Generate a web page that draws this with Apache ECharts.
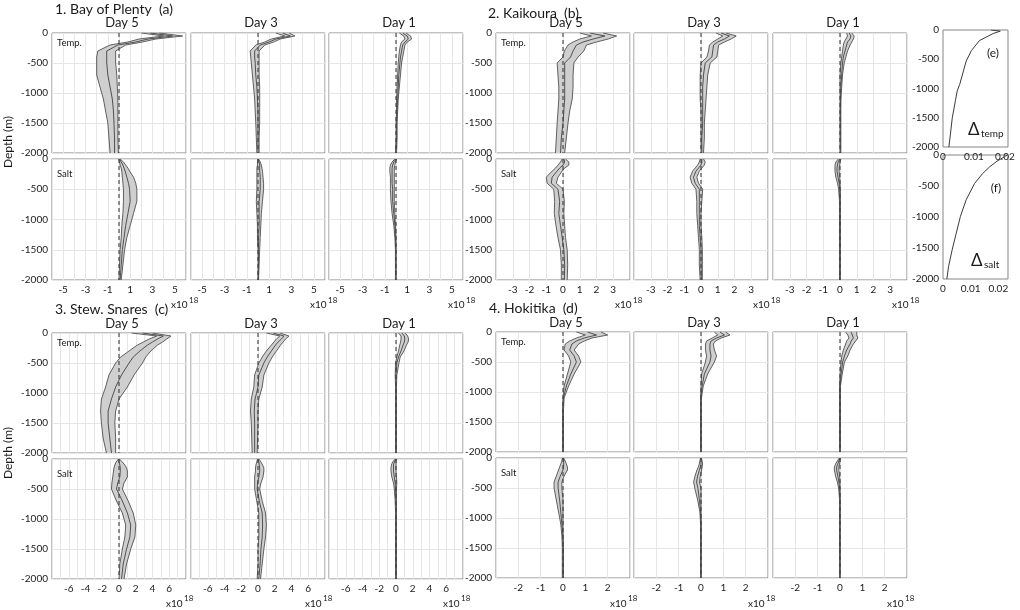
<!DOCTYPE html>
<html><head><meta charset="utf-8">
<script src="https://cdn.jsdelivr.net/npm/echarts/dist/echarts.min.js"></script>
<style>html,body{margin:0;padding:0;background:#fff}#c{width:1020px;height:610px}</style>
</head><body><div id="c"></div>
<script>
// ---------- DATA ----------
const depth = [0, -50, -100, -150, -200, -300, -400, -500, -700, -900, -1100, -1300, -1500, -1750, -2000];
const yTicks = [0, -500, -1000, -1500, -2000];
const bayTicks = [-5, -3, -1, 1, 3, 5];
const kaiTicks = [-3, -2, -1, 0, 1, 2, 3];
const stwTicks = [-6, -4, -2, 0, 2, 4, 6];
const hokTicks = [-2, -1, 0, 1, 2];
const groupTitles = ['1. Bay of Plenty  (a)', '2. Kaikoura  (b)', '3. Stew. Snares  (c)', '4. Hokitika  (d)'];
const dayNames = ['Day 5', 'Day 3', 'Day 1'];

// Bay of Plenty
const bayT5lo  = [2.0, 4.0, 1.8, 0.8, -0.8, -1.9, -2.0, -2.0, -2.0, -1.7, -1.4, -1.2, -1.0, -0.9, -0.8];
const bayT5mid = [2.8, 4.8, 2.6, 1.5, -0.1, -1.1, -1.1, -1.1, -1.0, -0.8, -0.6, -0.5, -0.45, -0.4, -0.4];
const bayT5hi  = [3.6, 5.7, 3.3, 2.1, 0.6, -0.3, -0.3, -0.3, -0.2, -0.15, -0.1, -0.1, -0.1, -0.1, -0.05];
const bayT3lo  = [1.6, 2.4, 1.2, 0.6, -0.2, -0.7, -0.65, -0.6, -0.5, -0.4, -0.3, -0.25, -0.2, -0.15, -0.1];
const bayT3mid = [2.2, 2.9, 1.6, 1.0, 0.2, -0.3, -0.3, -0.25, -0.2, -0.1, -0.05, 0.0, 0.0, 0.0, 0.0];
const bayT3hi  = [2.8, 3.3, 2.0, 1.4, 0.6, 0.1, 0.1, 0.1, 0.1, 0.15, 0.15, 0.15, 0.15, 0.1, 0.1];
const bayT1lo  = [0.3, 0.7, 0.8, 0.5, 0.4, 0.3, 0.25, 0.2, 0.15, 0.1, 0.05, 0.05, 0.0, 0.0, -0.05];
const bayT1mid = [0.6, 1.0, 1.1, 0.8, 0.6, 0.5, 0.4, 0.35, 0.25, 0.2, 0.15, 0.1, 0.05, 0.05, 0.0];
const bayT1hi  = [0.9, 1.3, 1.4, 1.0, 0.8, 0.7, 0.6, 0.5, 0.4, 0.3, 0.2, 0.15, 0.1, 0.1, 0.05];
const bayS5lo  = [0.0, 0.05, 0.1, 0.2, 0.25, 0.3, 0.35, 0.4, 0.4, 0.35, 0.25, 0.2, 0.1, 0.05, 0.0];
const bayS5mid = [0.05, 0.2, 0.35, 0.45, 0.55, 0.7, 0.85, 0.95, 1.0, 0.8, 0.6, 0.45, 0.3, 0.2, 0.1];
const bayS5hi  = [0.1, 0.4, 0.6, 0.8, 0.95, 1.3, 1.5, 1.6, 1.6, 1.3, 1.0, 0.7, 0.5, 0.35, 0.2];
const bayS3lo  = [0.0, -0.05, -0.05, -0.1, -0.1, -0.1, -0.1, -0.1, -0.15, -0.1, -0.05, -0.05, 0.0, 0.0, 0.0];
const bayS3mid = [0.0, 0.1, 0.15, 0.15, 0.15, 0.2, 0.2, 0.2, 0.1, 0.1, 0.1, 0.05, 0.05, 0.05, 0.0];
const bayS3hi  = [0.05, 0.2, 0.3, 0.35, 0.4, 0.45, 0.5, 0.5, 0.4, 0.3, 0.25, 0.2, 0.15, 0.1, 0.05];
const bayS1lo  = [-0.1, -0.35, -0.5, -0.55, -0.55, -0.5, -0.5, -0.5, -0.45, -0.35, -0.2, -0.1, -0.05, -0.05, -0.05];
const bayS1mid = [0.0, -0.2, -0.3, -0.35, -0.35, -0.35, -0.35, -0.3, -0.3, -0.2, -0.1, -0.05, 0.0, 0.0, 0.0];
const bayS1hi  = [0.05, -0.05, -0.1, -0.15, -0.15, -0.15, -0.15, -0.15, -0.15, -0.1, -0.05, 0.0, 0.0, 0.0, 0.0];

// Kaikoura
const kaiT5lo  = [1.0, 1.7, 1.0, 0.6, 0.3, 0.08, 0.0, -0.35, -0.3, -0.25, -0.25, -0.3, -0.35, -0.4, -0.45];
const kaiT5mid = [1.6, 2.5, 1.8, 1.2, 0.8, 0.6, 0.45, 0.1, 0.1, 0.1, 0.1, 0.05, 0.0, -0.1, -0.15];
const kaiT5hi  = [2.4, 3.2, 2.7, 2.0, 1.4, 1.24, 0.9, 0.65, 0.6, 0.6, 0.55, 0.4, 0.3, 0.2, 0.1];
const kaiT3lo  = [0.9, 1.3, 1.0, 0.7, 0.5, 0.45, 0.35, 0.0, -0.05, -0.05, -0.05, 0.0, 0.0, 0.0, 0.0];
const kaiT3mid = [1.2, 1.7, 1.4, 1.0, 0.75, 0.7, 0.65, 0.25, 0.15, 0.1, 0.1, 0.1, 0.1, 0.05, 0.05];
const kaiT3hi  = [1.5, 2.1, 1.8, 1.4, 1.05, 1.0, 0.95, 0.55, 0.4, 0.35, 0.3, 0.25, 0.2, 0.2, 0.15];
const kaiT1lo  = [0.4, 0.45, 0.35, 0.25, 0.2, 0.15, 0.1, 0.05, 0.0, 0.0, 0.0, 0.0, 0.0, 0.0, 0.0];
const kaiT1mid = [0.55, 0.65, 0.6, 0.45, 0.4, 0.3, 0.2, 0.15, 0.1, 0.05, 0.03, 0.02, 0.02, 0.02, 0.02];
const kaiT1hi  = [0.7, 0.85, 0.8, 0.7, 0.6, 0.45, 0.35, 0.25, 0.15, 0.1, 0.06, 0.05, 0.05, 0.05, 0.05];
const kaiS5lo  = [-0.05, -0.15, -0.3, -0.45, -0.65, -1.0, -0.95, -0.55, -0.5, -0.52, -0.42, -0.3, -0.15, -0.1, -0.1];
const kaiS5mid = [0.05, 0.1, 0.0, -0.2, -0.35, -0.65, -0.7, -0.3, -0.2, -0.25, -0.15, -0.05, 0.05, 0.1, 0.08];
const kaiS5hi  = [0.15, 0.35, 0.35, 0.1, -0.05, -0.3, -0.4, 0.0, 0.08, 0.05, 0.1, 0.15, 0.25, 0.28, 0.25];
const kaiS3lo  = [-0.05, -0.1, -0.2, -0.35, -0.5, -0.65, -0.55, -0.3, -0.25, -0.25, -0.2, -0.15, -0.1, -0.1, -0.05];
const kaiS3mid = [0.05, 0.05, 0.0, -0.15, -0.3, -0.45, -0.35, -0.1, -0.1, -0.1, -0.1, -0.05, 0.0, 0.0, 0.02];
const kaiS3hi  = [0.15, 0.25, 0.2, 0.05, -0.1, -0.25, -0.15, 0.1, 0.05, 0.0, 0.0, 0.05, 0.08, 0.08, 0.08];
const kaiS1lo  = [-0.1, -0.25, -0.3, -0.3, -0.3, -0.25, -0.15, -0.08, -0.03, -0.03, -0.03, -0.03, -0.03, -0.03, -0.03];
const kaiS1mid = [0.0, -0.12, -0.15, -0.18, -0.18, -0.12, -0.05, -0.02, 0.0, 0.0, 0.0, 0.0, 0.0, 0.0, 0.0];
const kaiS1hi  = [0.05, 0.0, -0.02, -0.05, -0.05, -0.02, 0.0, 0.02, 0.02, 0.02, 0.02, 0.02, 0.02, 0.02, 0.02];

// Stewart Snares
const stwT5lo  = [1.5, 4.5, 3.6, 2.9, 2.2, 1.2, 0.2, -0.4, -1.2, -1.6, -2.1, -2.2, -2.1, -1.9, -1.5];
const stwT5mid = [2.8, 5.3, 4.6, 4.0, 3.4, 2.5, 1.7, 1.2, 0.3, -0.4, -0.9, -1.3, -1.3, -1.1, -0.9];
const stwT5hi  = [4.0, 6.2, 5.7, 5.2, 4.6, 3.8, 3.2, 2.8, 1.8, 1.0, 0.0, -0.4, -0.5, -0.4, -0.4];
const stwT3lo  = [1.0, 2.6, 2.2, 1.9, 1.6, 1.0, 0.5, 0.1, -0.4, -0.5, -0.8, -0.9, -0.8, -0.75, -0.7];
const stwT3mid = [1.8, 3.1, 2.8, 2.4, 2.1, 1.6, 1.1, 0.7, 0.1, 0.0, -0.35, -0.45, -0.4, -0.4, -0.4];
const stwT3hi  = [2.6, 3.7, 3.3, 3.0, 2.7, 2.2, 1.7, 1.3, 0.7, 0.5, 0.1, 0.0, 0.0, -0.05, -0.1];
const stwT1lo  = [0.3, 0.6, 0.6, 0.55, 0.45, 0.3, 0.1, -0.05, -0.1, -0.05, -0.05, -0.05, -0.05, -0.05, -0.05];
const stwT1mid = [0.7, 1.0, 1.05, 1.0, 0.85, 0.6, 0.3, 0.1, 0.0, 0.0, 0.0, 0.0, 0.0, 0.0, 0.0];
const stwT1hi  = [1.1, 1.4, 1.5, 1.45, 1.25, 0.95, 0.5, 0.35, 0.1, 0.05, 0.05, 0.05, 0.05, 0.05, 0.05];
const stwS5lo  = [-0.05, -0.35, -0.5, -0.6, -0.65, -0.75, -0.85, -0.9, -0.3, 0.4, 0.8, 0.7, 0.4, 0.1, 0.0];
const stwS5mid = [0.0, 0.0, 0.1, 0.15, 0.15, 0.1, -0.15, -0.3, 0.4, 1.0, 1.4, 1.3, 0.9, 0.5, 0.3];
const stwS5hi  = [0.05, 0.4, 0.7, 0.9, 1.0, 1.0, 0.6, 0.4, 1.1, 1.7, 2.0, 1.9, 1.4, 0.9, 0.6];
const stwS3lo  = [-0.05, -0.15, -0.25, -0.3, -0.3, -0.4, -0.4, -0.4, -0.15, 0.1, 0.1, 0.1, 0.0, 0.0, -0.1];
const stwS3mid = [0.0, 0.1, 0.15, 0.2, 0.2, 0.1, -0.05, -0.1, 0.15, 0.5, 0.55, 0.5, 0.35, 0.25, 0.1];
const stwS3hi  = [0.1, 0.35, 0.55, 0.7, 0.7, 0.6, 0.35, 0.2, 0.5, 0.9, 1.0, 0.9, 0.7, 0.5, 0.3];
const stwS1lo  = [-0.1, -0.4, -0.55, -0.6, -0.6, -0.5, -0.3, -0.2, -0.1, -0.05, -0.05, -0.05, -0.05, -0.05, -0.05];
const stwS1mid = [0.0, -0.2, -0.3, -0.3, -0.3, -0.2, -0.1, -0.05, 0.0, 0.0, 0.0, 0.0, 0.0, 0.0, 0.0];
const stwS1hi  = [0.05, 0.0, 0.0, 0.0, 0.0, 0.05, 0.1, 0.05, 0.05, 0.05, 0.05, 0.05, 0.05, 0.05, 0.05];

// Hokitika
const hokT5lo  = [0.6, 1.0, 0.6, 0.3, 0.1, 0.05, 0.25, 0.35, 0.2, 0.05, 0.0, -0.02, -0.02, -0.02, -0.02];
const hokT5mid = [1.1, 1.5, 0.95, 0.6, 0.4, 0.3, 0.5, 0.6, 0.35, 0.15, 0.02, 0.0, 0.0, 0.0, 0.0];
const hokT5hi  = [1.7, 2.0, 1.3, 0.95, 0.7, 0.5, 0.7, 0.8, 0.5, 0.25, 0.05, 0.02, 0.02, 0.02, 0.02];
const hokT3lo  = [0.6, 0.75, 0.5, 0.25, 0.2, 0.2, 0.25, 0.2, 0.03, 0.0, -0.02, -0.02, -0.02, -0.02, -0.02];
const hokT3mid = [0.85, 1.05, 0.7, 0.45, 0.4, 0.4, 0.45, 0.4, 0.15, 0.05, 0.0, 0.0, 0.0, 0.0, 0.0];
const hokT3hi  = [1.1, 1.3, 0.9, 0.65, 0.55, 0.6, 0.7, 0.6, 0.3, 0.1, 0.02, 0.02, 0.02, 0.02, 0.02];
const hokT1lo  = [0.25, 0.35, 0.4, 0.3, 0.25, 0.15, 0.08, 0.05, 0.0, -0.02, -0.02, -0.02, -0.02, -0.02, -0.02];
const hokT1mid = [0.5, 0.55, 0.6, 0.5, 0.45, 0.3, 0.2, 0.12, 0.05, 0.0, 0.0, 0.0, 0.0, 0.0, 0.0];
const hokT1hi  = [0.75, 0.75, 0.8, 0.7, 0.6, 0.45, 0.35, 0.2, 0.1, 0.02, 0.02, 0.02, 0.02, 0.02, 0.02];
const hokS5lo  = [-0.03, -0.05, -0.1, -0.15, -0.2, -0.3, -0.4, -0.4, -0.3, -0.2, -0.1, -0.05, -0.03, -0.03, -0.03];
const hokS5mid = [0.0, 0.03, 0.03, 0.03, 0.0, -0.12, -0.22, -0.22, -0.15, -0.1, -0.05, 0.0, 0.0, 0.0, 0.0];
const hokS5hi  = [0.03, 0.1, 0.15, 0.2, 0.2, 0.05, -0.05, -0.05, 0.0, 0.0, 0.0, 0.0, 0.02, 0.02, 0.02];
const hokS3lo  = [-0.02, -0.05, -0.08, -0.12, -0.18, -0.27, -0.33, -0.28, -0.15, -0.05, -0.02, -0.02, -0.02, -0.02, -0.02];
const hokS3mid = [0.0, 0.0, 0.0, -0.03, -0.07, -0.15, -0.2, -0.14, -0.07, -0.02, 0.0, 0.0, 0.0, 0.0, 0.0];
const hokS3hi  = [0.02, 0.05, 0.07, 0.05, 0.03, -0.03, -0.07, 0.0, 0.0, 0.0, 0.01, 0.01, 0.01, 0.01, 0.01];
const hokS1lo  = [-0.03, -0.12, -0.2, -0.25, -0.25, -0.2, -0.12, -0.06, -0.02, -0.02, -0.02, -0.02, -0.02, -0.02, -0.02];
const hokS1mid = [0.0, -0.05, -0.1, -0.15, -0.15, -0.1, -0.05, -0.02, 0.0, 0.0, 0.0, 0.0, 0.0, 0.0, 0.0];
const hokS1hi  = [0.02, 0.0, -0.02, -0.05, -0.05, -0.02, 0.0, 0.0, 0.01, 0.01, 0.01, 0.01, 0.01, 0.01, 0.01];

// Side panels (e) and (f)
const dTempDepth = [0, -20, -60, -180, -350, -530, -930, -1040, -1210, -1500, -1780, -2000];
const dTempVal   = [0.0155, 0.0185, 0.0162, 0.0118, 0.0092, 0.0075, 0.0054, 0.0046, 0.0040, 0.0030, 0.0024, 0.0019];
const dSaltDepth = [0, -30, -100, -190, -300, -460, -720, -990, -1260, -1530, -1800, -2000];
const dSaltVal   = [0.0232, 0.0222, 0.0195, 0.0169, 0.0143, 0.0114, 0.0084, 0.0063, 0.0048, 0.0033, 0.0020, 0.0014];
const eTicks = [0, 0.01, 0.02];

// ---------- LAYOUT / BUILD ----------
const FONT = 'Lato, "Liberation Sans", Arial, sans-serif';
const PW = 134;
const colA = [52, 191, 329], colB = [496, 634, 773];
const groupSpecs = [
  {lefts: colA, topT: 33, topS: 159, hT: 120, hS: 121, half: 6, ticks: bayTicks,
   T: [[bayT5lo, bayT5mid, bayT5hi], [bayT3lo, bayT3mid, bayT3hi], [bayT1lo, bayT1mid, bayT1hi]],
   S: [[bayS5lo, bayS5mid, bayS5hi], [bayS3lo, bayS3mid, bayS3hi], [bayS1lo, bayS1mid, bayS1hi]],
   title: [55, 9], dayY: 23, xlY: [305, 300], xlDx: [-15, 3]},
  {lefts: colB, topT: 33, topS: 159, hT: 120, hS: 121, half: 4, ticks: kaiTicks,
   T: [[kaiT5lo, kaiT5mid, kaiT5hi], [kaiT3lo, kaiT3mid, kaiT3hi], [kaiT1lo, kaiT1mid, kaiT1hi]],
   S: [[kaiS5lo, kaiS5mid, kaiS5hi], [kaiS3lo, kaiS3mid, kaiS3hi], [kaiS1lo, kaiS1mid, kaiS1hi]],
   title: [488, 13], dayY: 23, xlY: [305, 300], xlDx: [-15, 3]},
  {lefts: colA, topT: 333, topS: 459, hT: 120, hS: 120, half: 8, ticks: stwTicks,
   T: [[stwT5lo, stwT5mid, stwT5hi], [stwT3lo, stwT3mid, stwT3hi], [stwT1lo, stwT1mid, stwT1hi]],
   S: [[stwS5lo, stwS5mid, stwS5hi], [stwS3lo, stwS3mid, stwS3hi], [stwS1lo, stwS1mid, stwS1hi]],
   title: [55, 309], dayY: 324, xlY: [604, 598], xlDx: [-20, -2]},
  {lefts: colB, topT: 332, topS: 458, hT: 120, hS: 120, half: 3, ticks: hokTicks,
   T: [[hokT5lo, hokT5mid, hokT5hi], [hokT3lo, hokT3mid, hokT3hi], [hokT1lo, hokT1mid, hokT1hi]],
   S: [[hokS5lo, hokS5mid, hokS5hi], [hokS3lo, hokS3mid, hokS3hi], [hokS1lo, hokS1mid, hokS1hi]],
   title: [489, 308], dayY: 323, xlY: [604, 598], xlDx: [-20, -2]}
];

const grids = [], xAxes = [], yAxes = [], series = [], graphics = [];
const BORDER = '#858585', SPLIT = '#e6e6e6', EDGE = '#505050', TXT = '#1a1a1a';

function txt(x, y, text, size, align, extra) {
  const o = {type: 'text', x: x, y: y, silent: true, z: 100,
    style: Object.assign({text: text, font: size + 'px ' + FONT, fill: TXT,
      align: align || 'left', verticalAlign: 'middle', textAlign: align || 'left', textVerticalAlign: 'middle'}, {})};
  if (extra) Object.assign(o, extra);
  return o;
}

function addBand(idx, lo, mid, hi) {
  series.push({type: 'custom', xAxisIndex: idx, yAxisIndex: idx, silent: true, z: 1,
    data: [[0, -1000]],
    renderItem: function (params, api) {
      const pts = [];
      for (let i = 0; i < depth.length; i++) pts.push(api.coord([lo[i], depth[i]]));
      for (let i = depth.length - 1; i >= 0; i--) pts.push(api.coord([hi[i], depth[i]]));
      return {type: 'polygon', shape: {points: pts}, style: {fill: '#cfcfcf', stroke: null}};
    }});
  [[lo, 0.9], [hi, 0.9], [mid, 1]].forEach(function (p) {
    series.push({type: 'line', xAxisIndex: idx, yAxisIndex: idx, silent: true, z: 2,
      symbol: 'none', animation: false,
      data: p[0].map(function (v, i) { return [v, depth[i]]; }),
      lineStyle: {color: EDGE, width: p[1]}});
  });
  series.push({type: 'line', xAxisIndex: idx, yAxisIndex: idx, silent: true, z: 3,
    symbol: 'none', data: [[0, 0], [0, -2000]],
    lineStyle: {color: '#3c3c3c', width: 1.1, type: [4, 3]}});
}

groupSpecs.forEach(function (g, gi) {
  ['T', 'S'].forEach(function (row) {
    for (let c = 0; c < 3; c++) {
      const idx = grids.length;
      const top = row === 'T' ? g.topT : g.topS;
      const h = row === 'T' ? g.hT : g.hS;
      grids.push({left: g.lefts[c], top: top, width: PW, height: h, show: true,
        borderColor: BORDER, borderWidth: 1, backgroundColor: 'transparent', outerBoundsMode: 'none'});
      const ticks = g.ticks;
      xAxes.push({type: 'value', gridIndex: idx, min: -g.half, max: g.half, interval: 1,
        axisLine: {show: false}, axisTick: {show: false},
        splitLine: {show: true, lineStyle: {color: SPLIT, width: 1}},
        axisLabel: {show: row === 'S', margin: 5, fontSize: 10, color: TXT, fontFamily: FONT,
          formatter: function (v) { return ticks.indexOf(v) >= 0 ? String(v) : ''; }}});
      yAxes.push({type: 'value', gridIndex: idx, min: -2000, max: 0, interval: 500,
        axisLine: {show: false}, axisTick: {show: false},
        splitLine: {show: true, lineStyle: {color: SPLIT, width: 1}},
        axisLabel: {show: c === 0, margin: 4, fontSize: 10, color: TXT, fontFamily: FONT,
          formatter: function (v) { return yTicks.indexOf(v) >= 0 ? String(v) : ''; }}});
      const d = g[row][c];
      addBand(idx, d[0], d[1], d[2]);
      if (row === 'T') {
        graphics.push(txt(g.lefts[c] + PW / 2 + 3, g.dayY, dayNames[c], 13, 'center'));
      } else {
        const r = g.lefts[c] + PW;
        graphics.push(txt(r + g.xlDx[0], g.xlY[0], 'x10', 10, 'left'));
        graphics.push(txt(r + g.xlDx[1], g.xlY[1], '18', 8, 'left'));
      }
      if (c === 0) {
        graphics.push(txt(g.lefts[0] + 5, top + (row === 'T' ? 9.5 : 15), row === 'T' ? 'Temp.' : 'Salt', 9.5, 'left'));
      }
    }
  });
  graphics.push(txt(g.title[0], g.title[1], groupTitles[gi], 14, 'left'));
});

// Side panels
const side = [
  {top: 30, h: 117, max: 0.021, dep: dTempDepth, val: dTempVal},
  {top: 155, h: 124, max: 0.0235, dep: dSaltDepth, val: dSaltVal}
];
side.forEach(function (s) {
  const idx = grids.length;
  grids.push({left: 943, top: s.top, width: 65, height: s.h, show: true,
    borderColor: BORDER, borderWidth: 1, backgroundColor: 'transparent', outerBoundsMode: 'none'});
  xAxes.push({type: 'value', gridIndex: idx, min: 0, max: s.max, interval: 0.01,
    axisLine: {show: false}, axisTick: {show: false}, splitLine: {show: false},
    axisLabel: {show: true, showMaxLabel: false, margin: 5, fontSize: 10, color: TXT, fontFamily: FONT,
      formatter: function (v) { return eTicks.indexOf(v) >= 0 ? (v === 0 ? '0' : v.toFixed(2)) : ''; }}});
  yAxes.push({type: 'value', gridIndex: idx, min: -2000, max: 0, interval: 500,
    axisLine: {show: false}, axisTick: {show: false}, splitLine: {show: false},
    axisLabel: {show: true, margin: 4, fontSize: 10, color: TXT, fontFamily: FONT,
      formatter: function (v) { return String(v); }}});
  series.push({type: 'line', xAxisIndex: idx, yAxisIndex: idx, silent: true, symbol: 'none',
    data: s.val.map(function (v, i) { return [v, s.dep[i]]; }),
    lineStyle: {color: '#3a3a3a', width: 1}});
});

graphics.push(txt(993, 53, '(e)', 12, 'center'));
graphics.push(txt(996, 188, '(f)', 12, 'center'));
graphics.push(txt(968, 130, 'Δ', 17, 'left'));
graphics.push(txt(981, 134, 'temp', 10, 'left'));
graphics.push(txt(971, 261, 'Δ', 17, 'left'));
graphics.push(txt(984, 265, 'salt', 10, 'left'));
graphics.push(txt(8, 142, 'Depth (m)', 12, 'center', {rotation: Math.PI / 2}));
graphics.push(txt(8, 453, 'Depth (m)', 12, 'center', {rotation: Math.PI / 2}));

const chart = echarts.init(document.getElementById('c'), null, {renderer: 'canvas'});
chart.setOption({
  animation: false,
  backgroundColor: '#ffffff',
  grid: grids, xAxis: xAxes, yAxis: yAxes, series: series,
  graphic: {elements: graphics}
});
</script>
</body></html>
